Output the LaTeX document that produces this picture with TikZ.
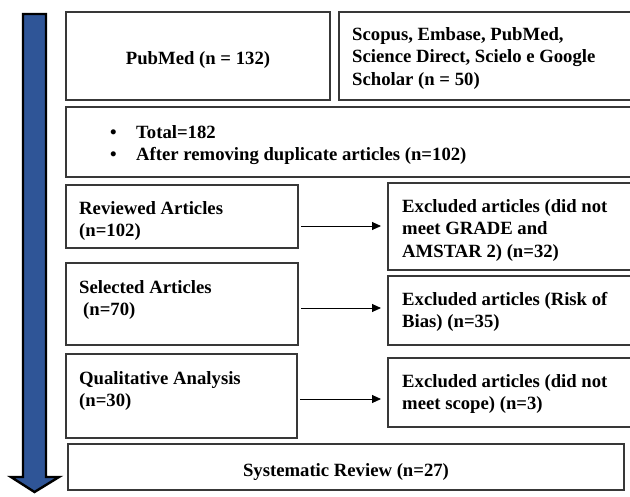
\documentclass[tikz,border=0pt]{standalone}
\usepackage{fontspec}
\setmainfont{Liberation Serif}
\usetikzlibrary{arrows.meta,calc}
\definecolor{flowblue}{HTML}{2F5597}
\definecolor{boxline}{HTML}{383838}

\begin{document}
\begin{tikzpicture}[x=1pt, y=-1pt, >={Triangle[length=9pt,width=8pt]},
    box/.style={draw=boxline, line width=1.2pt, inner sep=0pt, outer sep=0pt, anchor=north west},
    txt/.style={inner sep=0pt, anchor=base west, align=left,
      font=\fontsize{18.7}{22.5}\selectfont\bfseries},
    ctxt/.style={inner sep=0pt, anchor=base, font=\fontsize{18.7}{22.5}\selectfont\bfseries},
    flow/.style={->, line width=0.9pt, shorten <=3pt, shorten >=7pt}]
    \useasboundingbox (0,0) rectangle (630,496);

    % big downward arrow
    \draw[fill=flowblue, line width=2.4pt] (23,14) -- (46,14) -- (46,477) -- (59,477)
      -- (34.5,492) -- (11,477) -- (23,477) -- cycle;

    % boxes
    \node[box, minimum width=264pt, minimum height=88pt] (pubmed) at (66,12) {};
    \node[box, minimum width=295pt, minimum height=88pt] (scopus) at (339,12) {};
    \node[box, minimum width=568pt, minimum height=70pt] (total) at (66,107) {};
    \node[box, minimum width=232pt, minimum height=63pt] (reviewed) at (66,185) {};
    \node[box, minimum width=246pt, minimum height=87pt] (exgrade) at (388,183) {};
    \node[box, minimum width=232pt, minimum height=82pt] (selected) at (66,263) {};
    \node[box, minimum width=246pt, minimum height=69pt] (exbias) at (388,276) {};
    \node[box, minimum width=231pt, minimum height=84pt] (qualit) at (66,354) {};
    \node[box, minimum width=246pt, minimum height=69pt] (exscope) at (388,358) {};
    \node[box, minimum width=556pt, minimum height=46pt] (sysrev) at (68,444) {};

    % texts (base = baseline of the last line)
    \node[ctxt] (pubmedtxt) at ([shift={(0,52)}]pubmed.north) {PubMed (n = 132)};
    \node[txt] (scopustxt) at ([shift={(13,73)}]scopus.north west)
      {Scopus, Embase, PubMed,\\Science Direct, Scielo e Google\\Scholar (n = 50)};
    \node[txt] (totaltxt) at ([shift={(44,53.5)}]total.north west)
      {\makebox[26pt][l]{\textbullet}Total=182\\\makebox[26pt][l]{\textbullet}After removing duplicate articles (n=102)};
    \node[txt] (reviewedtxt) at ([shift={(13,51.5)}]reviewed.north west) {Reviewed Articles\\(n=102)};
    \node[txt] (exgradetxt) at ([shift={(14,74)}]exgrade.north west)
      {Excluded articles (did not\\meet GRADE and\\AMSTAR 2) (n=32)};
    \node[txt] (selectedtxt) at ([shift={(13,52.5)}]selected.north west) {Selected Articles\\\hspace*{4pt}(n=70)};
    \node[txt] (exbiastxt) at ([shift={(14,51.5)}]exbias.north west) {Excluded articles (Risk of\\Bias) (n=35)};
    \node[txt] (qualittxt) at ([shift={(13,52.5)}]qualit.north west) {Qualitative Analysis\\(n=30)};
    \node[txt] (exscopetxt) at ([shift={(14,51.5)}]exscope.north west) {Excluded articles (did not\\meet scope) (n=3)};
    \node[ctxt] (sysrevtxt) at ([shift={(0,32)}]sysrev.north) {Systematic Review (n=27)};

    % exclusion arrows
    \draw[flow] ([yshift=-9.5pt]reviewed.east) -- ([yshift=-9.5pt]reviewed.east -| exgrade.west);
    \draw[flow] ([yshift=-4pt]selected.east) -- ([yshift=-4pt]selected.east -| exbias.west);
    \draw[flow] ([yshift=-3pt]qualit.east) -- ([yshift=-3pt]qualit.east -| exscope.west);
\end{tikzpicture}
\end{document}
